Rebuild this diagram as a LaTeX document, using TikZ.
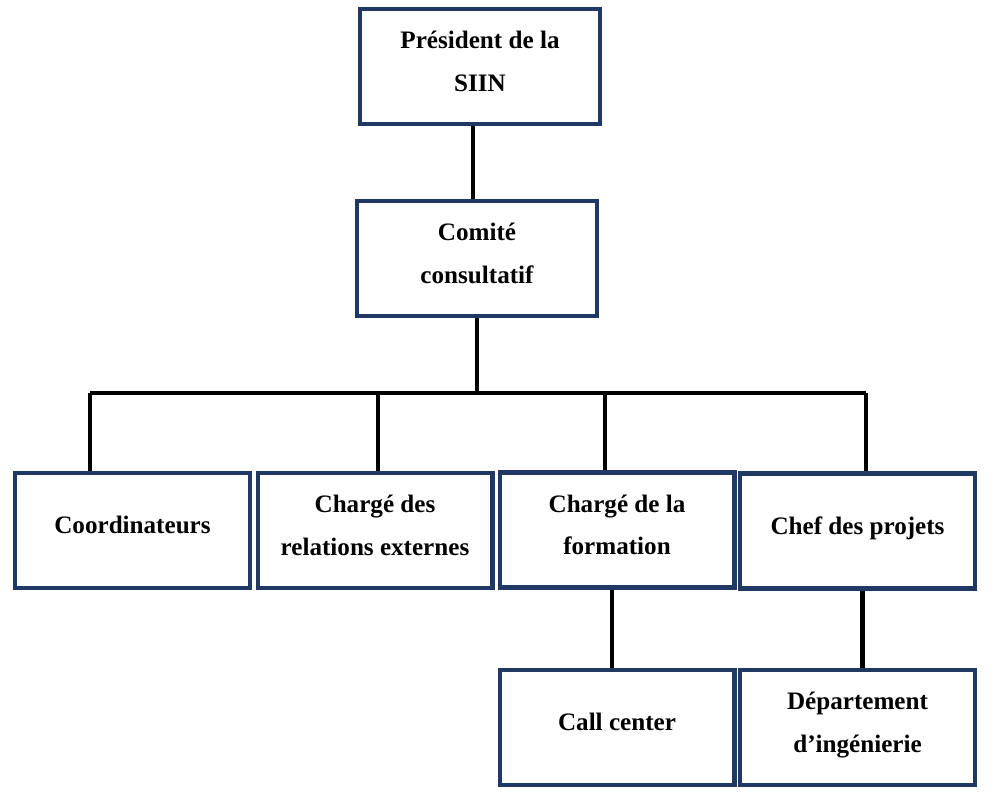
\documentclass[tikz,border=0pt]{standalone}
\usepackage{fontspec}
\setmainfont{Liberation Serif}
\usetikzlibrary{positioning}
\definecolor{boxblue}{HTML}{203864}
\tikzset
{
    orgbox/.style = {rectangle, draw=boxblue, line width=2.3pt, align=center, minimum width=4.7cm, minimum height=2.3cm, inner sep=2pt, font=\bfseries\fontsize{14.3}{24}\selectfont},
    topbox/.style = {orgbox, minimum width=4.8cm},
    link/.style   = {draw=black, line width=2.3pt}
}
\begin{document}
\begin{tikzpicture}[x=0.02cm, y=-0.02cm]
\useasboundingbox (0,0) rectangle (1008,794);
\node[topbox] (pres) at (480,66.5) {Président de la\\SIIN\\[-18pt]};
\node[topbox] (comite) at (477,258.5) {Comité\\consultatif\\[-18pt]};
\node[orgbox] (coord) at (132.5,530.5) {Coordinateurs\\[-18pt]};
\node[orgbox] (relext) at (375,530.5) {Chargé des\\relations externes\\[-18pt]};
\node[orgbox] (form) at (617,530) {Chargé de la\\formation\\[-18pt]};
\node[orgbox] (chef) at (857.5,531) {Chef des projets\\[-18pt]};
\node[orgbox] (call) at (617,727.5) {Call center\\[-18pt]};
\node[orgbox] (dept) at (857.5,727.5) {Département\\d’ingénierie\\[-18pt]};
% bus line
\coordinate (top) at (473,125);
\coordinate (bus) at (477,393);
\coordinate (b1) at (90,393);
\coordinate (b2) at (378,393);
\coordinate (b3) at (605,393);
\coordinate (b4) at (866,393);
\draw[link] (top |- pres.south) -- (top |- comite.north);
\draw[link] (comite.south) -- (bus);
\draw[link] (b1) -- (b4);
\draw[link] (b1) -- (b1 |- coord.north);
\draw[link] (b2) -- (b2 |- relext.north);
\draw[link] (b3) -- (b3 |- form.north);
\draw[link] (b4) -- (b4 |- chef.north);
\draw[link] ([xshift=-0.1cm]form.south) -- ([xshift=-0.1cm]call.north);
\draw[link] ([xshift=0.1cm]chef.south) -- ([xshift=0.1cm]dept.north);
\end{tikzpicture}
\end{document}
